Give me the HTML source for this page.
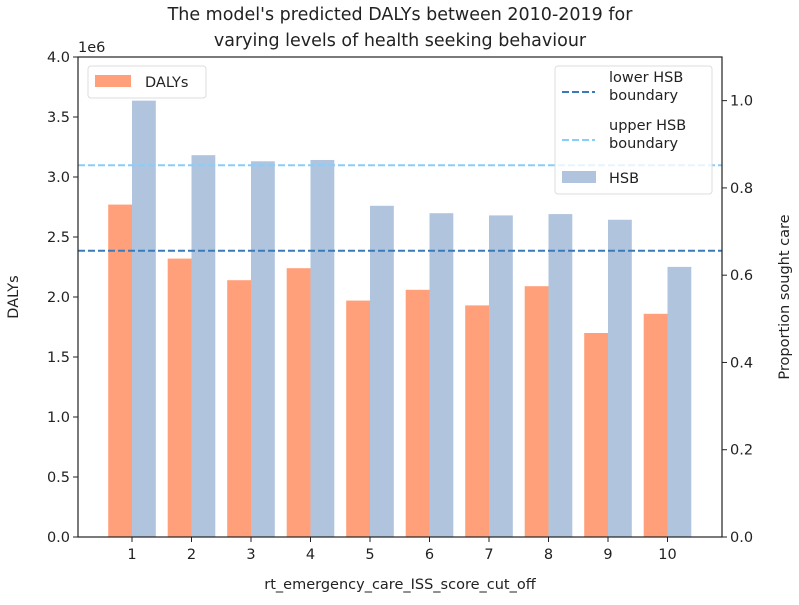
<!DOCTYPE html>
<html><head><meta charset="utf-8"><style>
body{margin:0;background:#fff}
svg{font-family:"DejaVu Sans","Liberation Sans",sans-serif;display:block}
</style></head><body>
<svg id="chart" width="799" height="605" viewBox="0 0 799 605" xmlns="http://www.w3.org/2000/svg">
<text x="400" y="20" text-anchor="middle" font-size="17.5" fill="#222">The model's predicted DALYs between 2010-2019 for</text>
<text x="400" y="46" text-anchor="middle" font-size="17.5" fill="#222">varying levels of health seeking behaviour</text>
<g id="bars"></g>
<g id="lines"></g>
<g id="axes"></g>
<text x="78" y="52" font-size="14.5" fill="#222">1e6</text>
<text x="400" y="589" text-anchor="middle" font-size="14.5" fill="#222">rt_emergency_care_ISS_score_cut_off</text>
<text transform="translate(18,297) rotate(-90)" text-anchor="middle" font-size="14.5" fill="#222">DALYs</text>
<text transform="translate(789,297) rotate(-90)" text-anchor="middle" font-size="14.5" fill="#222">Proportion sought care</text>
<g>
<rect x="88" y="66" width="118" height="32" rx="3" fill="#fff" fill-opacity="0.8" stroke="#ddd"/>
<rect x="95" y="75" width="36" height="12" fill="#FFA07A"/>
<text x="145" y="87" font-size="14.5" fill="#222">DALYs</text>
</g>
<g>
<rect x="555" y="66" width="157" height="128" rx="3" fill="#fff" fill-opacity="0.8" stroke="#ddd"/>
<line x1="562" y1="92" x2="595" y2="92" stroke="#3A7AB8" stroke-width="2" stroke-dasharray="7,3"/>
<text x="609" y="82" font-size="14.5" fill="#222">lower HSB</text>
<text x="609" y="100" font-size="14.5" fill="#222">boundary</text>
<line x1="562" y1="140" x2="595" y2="140" stroke="#87CEFA" stroke-width="2" stroke-dasharray="7,3"/>
<text x="609" y="130" font-size="14.5" fill="#222">upper HSB</text>
<text x="609" y="148" font-size="14.5" fill="#222">boundary</text>
<rect x="562" y="171" width="34" height="12" fill="#B0C4DE"/>
<text x="609" y="183" font-size="14.5" fill="#222">HSB</text>
</g>
</svg>
<script>
const categories = [1,2,3,4,5,6,7,8,9,10];
const dalys = [2.77e6,2.32e6,2.14e6,2.24e6,1.97e6,2.06e6,1.93e6,2.09e6,1.70e6,1.86e6];
const hsb = [1.0,0.875,0.861,0.864,0.759,0.742,0.737,0.740,0.727,0.619];
const lowerBoundary = 0.656;
const upperBoundary = 0.852;
const leftTicks = [0,0.5,1.0,1.5,2.0,2.5,3.0,3.5,4.0];
const rightTicks = [0,0.2,0.4,0.6,0.8,1.0];

const L=78,R=722,T=57,B=537;
const ns="http://www.w3.org/2000/svg";
function xPos(i){return 132+(i-1)*59.5;}
function yL(v){return B-(v/4e6)*(B-T);}
function yR(v){return B-(v/1.1)*(B-T);}
function mk(tag,attrs,parent){const e=document.createElementNS(ns,tag);for(const k in attrs)e.setAttribute(k,attrs[k]);parent.appendChild(e);return e;}
const bars=document.getElementById('bars'),lines=document.getElementById('lines'),axes=document.getElementById('axes');
const bw=0.4*59.5;
categories.forEach((c,i)=>{
  const y1=yL(dalys[i]);
  const r1=mk('rect',{x:xPos(c)-bw,y:y1,width:bw,height:B-y1,fill:'#FFA07A'},bars);
  
  
  const y2=yR(hsb[i]);
  const r2=mk('rect',{x:xPos(c),y:y2,width:bw,height:B-y2,fill:'#B0C4DE'},bars);
  
  
});
const lo=mk('line',{x1:L,x2:R,y1:yR(lowerBoundary),y2:yR(lowerBoundary),stroke:'#3A7AB8','stroke-width':2,'stroke-dasharray':'7,3'},lines);


const up=mk('line',{x1:L,x2:R,y1:yR(upperBoundary),y2:yR(upperBoundary),stroke:'#87CEFA','stroke-width':2,'stroke-dasharray':'7,3'},lines);


const frame=mk('rect',{x:L,y:T,width:R-L,height:B-T,fill:'none',stroke:'#222','stroke-width':1.2},axes);


leftTicks.forEach(v=>{
  const y=yL(v*1e6);
  mk('line',{x1:L-5,x2:L,y1:y,y2:y,stroke:'#222'},axes);
  const t=mk('text',{x:L-8,y:y+5,'text-anchor':'end','font-size':14.5,fill:'#222'},axes);
  t.textContent=v.toFixed(1);
  
  
});
rightTicks.forEach(v=>{
  const y=yR(v);
  mk('line',{x1:R,x2:R+5,y1:y,y2:y,stroke:'#222'},axes);
  const t=mk('text',{x:R+8,y:y+5,'font-size':14.5,fill:'#222'},axes);
  t.textContent=v.toFixed(1);
  
  
});
categories.forEach(c=>{
  const x=xPos(c);
  mk('line',{x1:x,x2:x,y1:B,y2:B+5,stroke:'#222'},axes);
  const t=mk('text',{x:x,y:B+22,'text-anchor':'middle','font-size':14.5,fill:'#222'},axes);
  t.textContent=c;
  
  
});
</script>
</body></html>
